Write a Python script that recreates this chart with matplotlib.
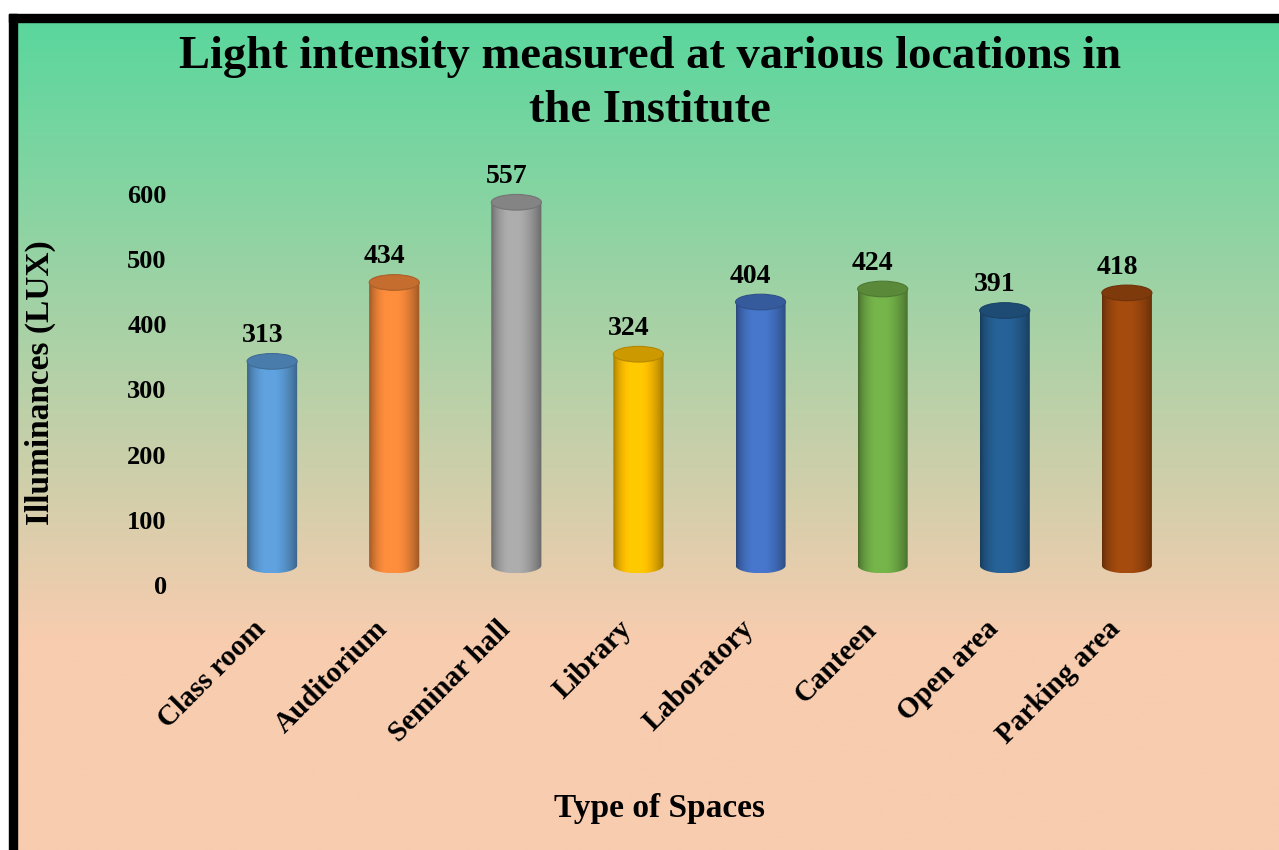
import numpy as np
import matplotlib
matplotlib.use("Agg")
import matplotlib.pyplot as plt
import matplotlib.transforms as mtransforms
from matplotlib.patches import Ellipse, Rectangle, PathPatch
from matplotlib.path import Path

plt.rcParams['font.family'] = ['Liberation Serif', 'DejaVu Serif']
plt.rcParams['font.weight'] = 'bold'

# data
spaces = ["Class room", "Auditorium", "Seminar hall", "Library",
          "Laboratory", "Canteen", "Open area", "Parking area"]
lux = [313, 434, 557, 324, 404, 424, 391, 418]
bar_colors = ["#5b9bd5", "#f5883a", "#a5a5a5", "#ffc000",
              "#4472c4", "#70ad47", "#255e91", "#9e480e"]
yticks = [0, 100, 200, 300, 400, 500, 600]

W, H = 1279, 850
fig = plt.figure(figsize=(W / 100, H / 100), dpi=100)

# background: gradient + black frame (pixel coords)
bg = fig.add_axes([0, 0, 1, 1], zorder=-10)
bg.set_xlim(0, W)
bg.set_ylim(H, 0)
bg.axis("off")
top_c = np.array([90, 215, 157]) / 255
bot_c = np.array([248, 204, 175]) / 255
rows = np.linspace(22, H, 400)
t = np.clip((rows - 22) / (640 - 22), 0, 1)[:, None]
grad = (top_c * (1 - t) + bot_c * t)[:, None, :]
bg.add_patch(Rectangle((0, 0), W, H, color="white"))
bg.imshow(grad, extent=[17, W, H, 22], aspect="auto", zorder=1)
bg.add_patch(Rectangle((9, 14), W - 9, 8, color="black", zorder=2))
bg.add_patch(Rectangle((9, 14), 8, H - 14, color="black", zorder=2))

# chart axes
ax = fig.add_axes([150 / W, (H - 585) / H, 1099 / W, (640 * 0.652) / H])
ax.set_xlim(-1, 8)
ax.set_ylim(0, 640)
ax.patch.set_alpha(0)
for s in ax.spines.values():
    s.set_visible(False)

base = 30      # depth offset of the cylinders
hw = 0.205     # half width
eh = 12        # half height of the ellipses

prof = np.linspace(0, 1, 80)
shade = 0.62 + 0.45 * np.sin(np.pi * prof ** 0.85) ** 0.8
shade = np.clip(shade, 0, 1.05)

for i, (v, c) in enumerate(zip(lux, bar_colors)):
    rgb = np.array(matplotlib.colors.to_rgb(c))
    top = v + base
    # body path: rectangle with lower half ellipse
    th = np.linspace(np.pi, 2 * np.pi, 40)
    bx = i + hw * np.cos(th)
    by = base + eh * np.sin(th)
    verts = [(i - hw, top)] + list(zip(bx, by)) + [(i + hw, top), (i - hw, top)]
    body = PathPatch(Path(verts), facecolor="none", edgecolor="none")
    ax.add_patch(body)
    img = np.clip(rgb[None, :] * shade[:, None], 0, 1)[None, :, :]
    im = ax.imshow(img, extent=[i - hw, i + hw, base - eh, top], aspect="auto",
                   zorder=2, interpolation="bilinear")
    im.set_clip_path(body)
    ax.add_patch(Ellipse((i, top), 2 * hw, 2 * eh, facecolor=rgb * 0.8,
                         edgecolor=rgb * 0.7, lw=0.8, zorder=3))
    ax.text(i - 0.08, top + eh + 8, str(v), ha="center", va="bottom",
            fontsize=20, fontweight="bold")

ax.set_xlim(-1, 8)
ax.set_ylim(0, 640)
ax.set_yticks(yticks)
ax.set_yticklabels([str(y) for y in yticks], fontsize=19, fontweight="bold")
ax.tick_params(axis="y", length=0, pad=-12)
ax.set_xticks(range(len(spaces)))
ax.set_xticklabels(spaces, rotation=45, ha="right", rotation_mode="anchor",
                   fontsize=21, fontweight="bold")
ax.tick_params(axis="x", length=0, pad=22)
shift = mtransforms.ScaledTranslation(-0.2, 0, fig.dpi_scale_trans)
for lab in ax.get_xticklabels():
    lab.set_transform(lab.get_transform() + shift)

fig.text(650 / W, 1 - 84 / H,
         "Light intensity measured at various locations in\nthe Institute",
         ha="center", va="center", fontsize=33.5, fontweight="bold",
         linespacing=1.38)
fig.text(40 / W, 1 - 383 / H, "Illuminances (LUX)", rotation=90,
         ha="center", va="center", fontsize=24, fontweight="bold")
fig.text(660 / W, 1 - 808 / H, "Type of Spaces", ha="center", va="center",
         fontsize=24, fontweight="bold")

fig.savefig("out.png", dpi=100)
